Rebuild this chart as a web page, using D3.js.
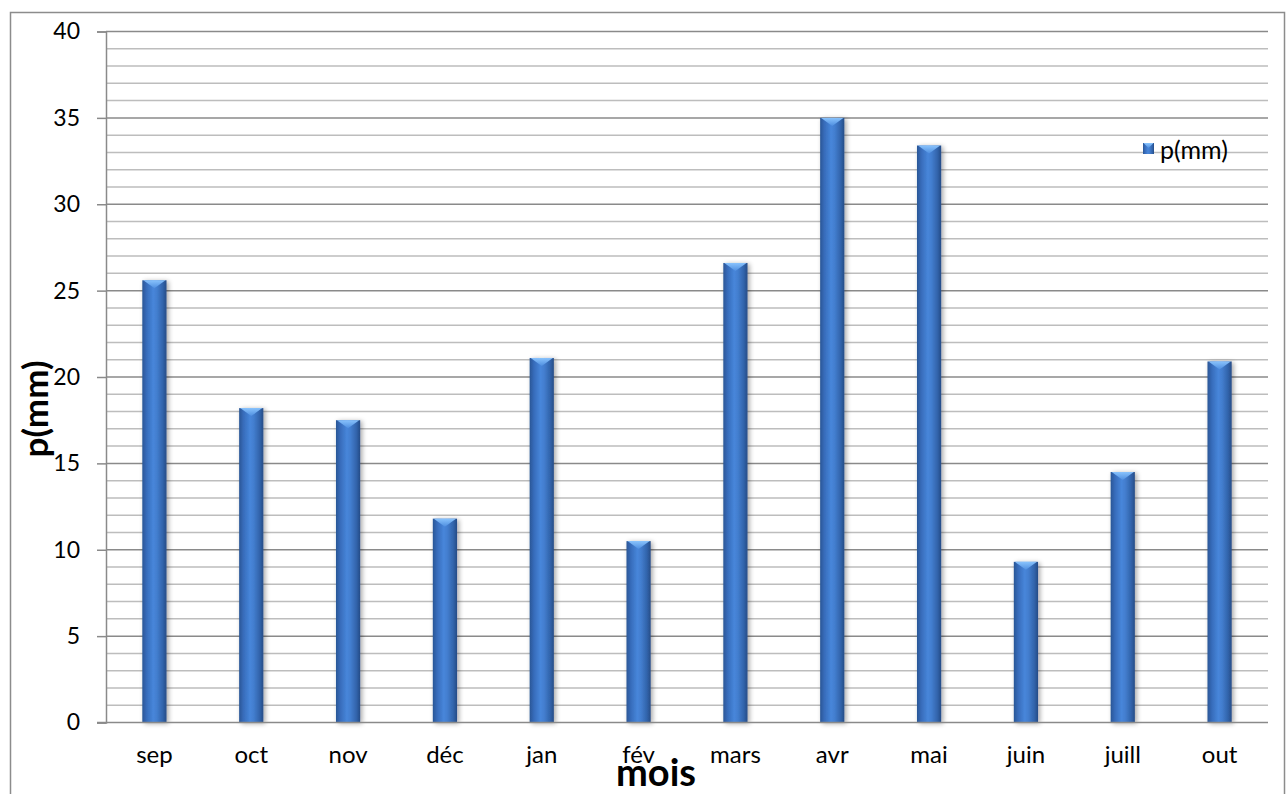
<!DOCTYPE html>
<html>
<head>
<meta charset="utf-8">
<script src="https://cdn.jsdelivr.net/npm/d3@7"></script>
<style>
  html, body { margin: 0; padding: 0; background: #fff; }
  svg { display: block; }
  text { font-family: Lato, "Open Sans", sans-serif; fill: #000; }
</style>
</head>
<body>
<svg id="chart" width="1287" height="794"></svg>
<script>
// Monthly precipitation, p(mm)
const months = ["sep", "oct", "nov", "déc", "jan", "fév", "mars", "avr", "mai", "juin", "juill", "out"];
const precip = [25.6, 18.2, 17.5, 11.8, 21.1, 10.5, 26.6, 35.0, 33.4, 9.3, 14.5, 20.9];
const majorTicks = [0, 5, 10, 15, 20, 25, 30, 35, 40];
const minorTicks = d3.range(0, 41, 1);
const seriesName = "p(mm)";
const xTitle = "mois";
const yTitle = "p(mm)";

const svg = d3.select("#chart");
const plot = { left: 106, right: 1268, top: 31.5, bottom: 722.5 };

// outer chart border
svg.append("rect")
  .attr("x", 10.5).attr("y", 12.5)
  .attr("width", 1274).attr("height", 800)
  .attr("fill", "#fff").attr("stroke", "#8c8c8c").attr("stroke-width", 1.5);

const defs = svg.append("defs");
const body = defs.append("linearGradient").attr("id", "barBody")
  .attr("x1", "0").attr("x2", "1").attr("y1", "0").attr("y2", "0");
[["0%", "#2a5696"], ["18%", "#376cbb"], ["45%", "#4786da"], ["60%", "#437ecf"], ["85%", "#3163aa"], ["100%", "#264c86"]]
  .forEach(([o, c]) => body.append("stop").attr("offset", o).attr("stop-color", c));
const cap = defs.append("linearGradient").attr("id", "barCap")
  .attr("x1", "0").attr("x2", "0").attr("y1", "0").attr("y2", "1");
[["0%", "#8cc6ff"], ["100%", "#4f8fe0"]]
  .forEach(([o, c]) => cap.append("stop").attr("offset", o).attr("stop-color", c));
const shadow = defs.append("filter").attr("id", "barShadow")
  .attr("x", "-50%").attr("y", "-5%").attr("width", "200%").attr("height", "110%");
shadow.append("feGaussianBlur").attr("in", "SourceAlpha").attr("stdDeviation", 2.5).attr("result", "b");
shadow.append("feOffset").attr("in", "b").attr("dx", 2).attr("dy", 1).attr("result", "o");
shadow.append("feComponentTransfer").attr("in", "o").attr("result", "s")
  .append("feFuncA").attr("type", "linear").attr("slope", 0.35);
const merge = shadow.append("feMerge");
merge.append("feMergeNode").attr("in", "s");
merge.append("feMergeNode").attr("in", "SourceGraphic");

const x = d3.scaleBand().domain(months).range([plot.left, plot.right]).paddingInner(0.75).paddingOuter(0.375);
const y = d3.scaleLinear().domain([0, 40]).range([plot.bottom, plot.top]);

// gridlines: light minor every unit, darker major every 5
const grid = svg.append("g");
grid.selectAll("line.minor")
  .data(minorTicks.filter(v => v % 5 !== 0))
  .join("line")
  .attr("x1", plot.left).attr("x2", plot.right)
  .attr("y1", d => y(d)).attr("y2", d => y(d))
  .attr("stroke", "#bdbdbd").attr("stroke-width", 1.5);
grid.selectAll("line.major")
  .data(majorTicks.filter(v => v > 0))
  .join("line")
  .attr("x1", plot.left).attr("x2", plot.right)
  .attr("y1", d => y(d)).attr("y2", d => y(d))
  .attr("stroke", "#8a8a8a").attr("stroke-width", 1.5);

// y axis with outward ticks
const yAxis = svg.append("g")
  .attr("transform", `translate(${plot.left},0)`)
  .call(d3.axisLeft(y).tickValues(majorTicks).tickSize(9).tickPadding(17));
yAxis.select(".domain").attr("stroke", "#8a8a8a").attr("stroke-width", 1.5);
yAxis.selectAll(".tick line").attr("stroke", "#8a8a8a").attr("stroke-width", 1.5);
yAxis.selectAll(".tick text")
  .attr("font-family", "Lato, sans-serif").attr("font-size", 23).attr("fill", "#000");

// bars
const bars = svg.append("g");
const bw = x.bandwidth();
const rows = months.map((m, i) => ({ m, v: precip[i] }));
bars.selectAll("rect")
  .data(rows)
  .join("rect")
  .attr("x", d => x(d.m)).attr("y", d => y(d.v))
  .attr("width", bw).attr("height", d => y(0) - y(d.v))
  .attr("fill", "url(#barBody)")
  .attr("filter", "url(#barShadow)");
bars.selectAll("path")
  .data(rows)
  .join("path")
  .attr("d", d => {
    const x0 = x(d.m), t = y(d.v);
    return `M${x0 + 1},${t} L${x0 + bw - 1},${t} L${x0 + bw / 2},${t + 8} Z`;
  })
  .attr("fill", "url(#barCap)").attr("opacity", 0.95);

// x axis baseline and labels
svg.append("line")
  .attr("x1", plot.left - 9).attr("x2", plot.right)
  .attr("y1", y(0)).attr("y2", y(0))
  .attr("stroke", "#8a8a8a").attr("stroke-width", 1.5);
svg.append("g").selectAll("text")
  .data(months)
  .join("text")
  .attr("x", d => x(d) + bw / 2).attr("y", 763)
  .attr("text-anchor", "middle").attr("font-size", 24)
  .text(d => d);

// axis titles
svg.append("text")
  .attr("x", 656).attr("y", 786)
  .attr("text-anchor", "middle").attr("font-size", 38).attr("font-weight", 700)
  .text(xTitle);
svg.append("text")
  .attr("transform", "translate(48,409) rotate(-90)")
  .attr("text-anchor", "middle").attr("font-size", 35).attr("font-weight", 700)
  .text(yTitle);

// legend
const lg = svg.append("g").attr("transform", "translate(1143,143)");
lg.append("rect").attr("width", 11).attr("height", 11).attr("fill", "url(#barBody)");
lg.append("path").attr("d", "M0.5,0 L10.5,0 L5.5,5 Z").attr("fill", "url(#barCap)");
lg.append("text").attr("x", 17).attr("y", 15.5).attr("font-size", 25).text(seriesName);
</script>
</body>
</html>
